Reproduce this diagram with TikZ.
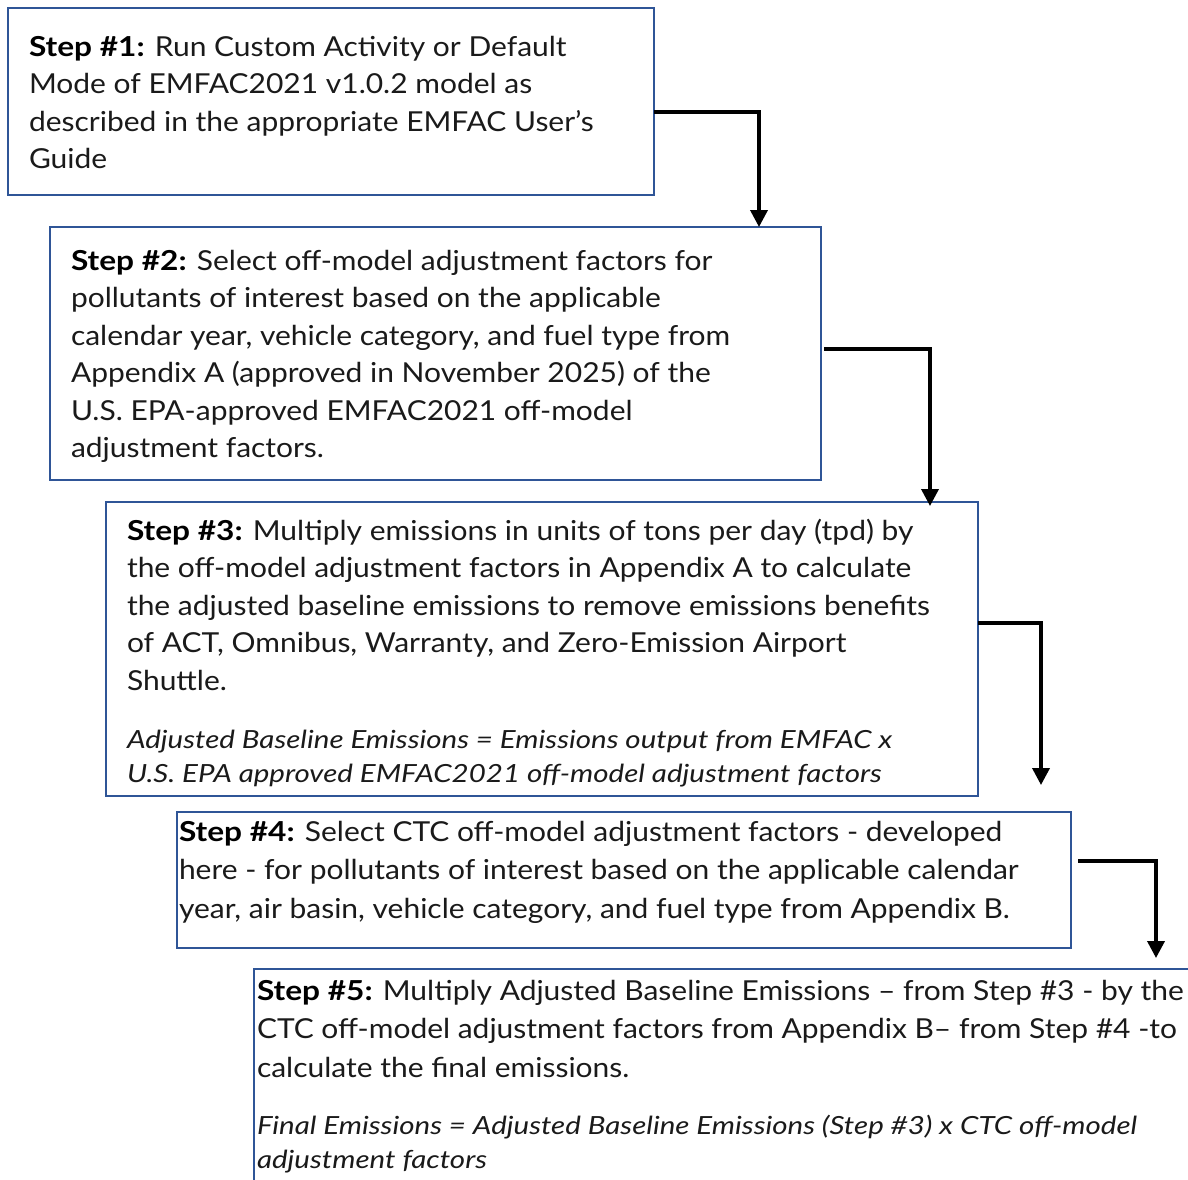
\documentclass[tikz,border=0pt]{standalone}
\usepackage{fontspec}
\setmainfont{Lato}[FakeStretch=1.09]
\newfontfamily\stepfont{Lato}[FakeStretch=1.15]
\newfontfamily\formfont{Lato}[FakeStretch=1.18]
\usetikzlibrary{arrows.meta}
\definecolor{boxblue}{HTML}{2F5597}
\definecolor{txtgray}{HTML}{1A1A1A}
\tikzset{
  x=1pt, y=-1pt,
  stepbox/.style={draw=boxblue, line width=2.2pt, rectangle, inner sep=0pt, outer sep=0pt, anchor=north west},
  steptxt/.style={anchor=north west, inner sep=0pt, outer sep=0pt, align=left, text=txtgray,
    font=\fontsize{27.5}{37.5}\selectfont},
  widetxt/.style={steptxt, font=\fontsize{27.5}{38.5}\selectfont},
  formtxt/.style={anchor=north west, inner sep=0pt, outer sep=0pt, align=left, text=txtgray,
    font=\formfont\fontsize{25}{34.5}\selectfont\itshape},
  flow/.style={draw=black, line width=3.6pt, -{Triangle[width=17pt,length=17pt]}},
}
\newcommand{\stp}[1]{\textcolor{black}{\stepfont\bfseries #1}}
\begin{document}
\begin{tikzpicture}
\clip (0,0) rectangle (1188,1179);
\useasboundingbox (0,0) rectangle (1188,1179);
\fill[white] (0,0) rectangle (1188,1179);
% boxes
\node[stepbox, minimum width=646pt, minimum height=187pt] (box1) at (8,8) {};
\node[stepbox, minimum width=771pt, minimum height=253pt] (box2) at (50,227) {};
\node[stepbox, minimum width=872pt, minimum height=294pt] (box3) at (106,502) {};
\node[stepbox, minimum width=894pt, minimum height=136pt] (box4) at (177,812) {};
\node[stepbox, minimum width=960pt, minimum height=260pt] (box5) at (254,969) {};
% texts
\node[steptxt] (t1) at (29,36) {\stp{Step \#1:} Run Custom Activity or Default\\
Mode of EMFAC2021 v1.0.2 model as\\
described in the appropriate EMFAC User’s\\
Guide};
\node[steptxt] (t2) at (71,250) {\stp{Step \#2:} Select off-model adjustment factors for\\
pollutants of interest based on the applicable\\
calendar year, vehicle category, and fuel type from\\
Appendix A (approved in November 2025) of the\\
U.S. EPA-approved EMFAC2021 off-model\\
adjustment factors.};
\node[steptxt] (t3) at (127,519) {\stp{Step \#3:} Multiply emissions in units of tons per day (tpd) by\\
the off-model adjustment factors in Appendix A to calculate\\
the adjusted baseline emissions to remove emissions benefits\\
of ACT, Omnibus, Warranty, and Zero-Emission Airport\\
Shuttle.};
\node[formtxt] (f3) at (127,730) {Adjusted Baseline Emissions = Emissions output from EMFAC x\\
U.S. EPA approved EMFAC2021 off-model adjustment factors};
\node[widetxt] (t4) at (179,821) {\stp{Step \#4:} Select CTC off-model adjustment factors - developed\\
here - for pollutants of interest based on the applicable calendar\\
year, air basin, vehicle category, and fuel type from Appendix B.};
\node[widetxt] (t5) at (257,980) {\stp{Step \#5:} Multiply Adjusted Baseline Emissions – from Step \#3 - by the\\
CTC off-model adjustment factors from Appendix B– from Step \#4 -to\\
calculate the final emissions.};
\node[formtxt] (f5) at (257,1115) {Final Emissions = Adjusted Baseline Emissions (Step \#3) x CTC off-model\\
adjustment factors};
% connector columns
\coordinate (c1) at (759,0);
\coordinate (c2) at (930,0);
\coordinate (e3) at (1041,785);
\coordinate (e4) at (1156,958);
\draw[flow] (box1.east |- 0,112) -| (box2.north -| c1);
\draw[flow] ([xshift=3pt]box2.east |- 0,349) -| ([yshift=-4pt]box3.north -| c2);
\draw[flow] (box3.east |- 0,623) -| (e3);
\draw[flow] ([xshift=7pt]box4.east |- 0,861) -| (e4);
\end{tikzpicture}
\end{document}
